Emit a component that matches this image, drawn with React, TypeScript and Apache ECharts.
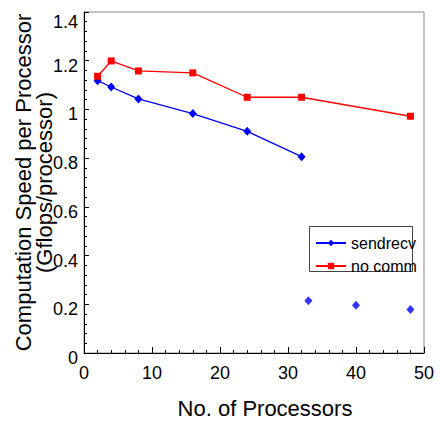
import React, { useEffect, useRef } from "react";
import * as echarts from "echarts";

const sendrecvX = [2, 4, 8, 16, 24, 32];
const sendrecvY = [1.118, 1.092, 1.043, 0.983, 0.91, 0.806];
const extraX = [33, 40, 48];
const extraY = [0.215, 0.196, 0.179];
const nocommX = [2, 4, 8, 16, 24, 32, 48];
const nocommY = [1.136, 1.199, 1.158, 1.15, 1.05, 1.05, 0.972];

const FONT = "'Liberation Sans', Arial, sans-serif";

export default function App() {
  const ref = useRef<HTMLDivElement>(null);
  useEffect(() => {
    if (!ref.current) return;
    const chart = echarts.init(ref.current, null, { renderer: "svg" });
    const pair = (xs: number[], ys: number[]) => xs.map((x, i) => [x, ys[i]]);
    chart.setOption({
      animation: false,
      backgroundColor: "#ffffff",
      textStyle: { fontFamily: FONT },
      grid: {
        left: 84,
        top: 12,
        right: 17,
        bottom: 68,
        containLabel: false,
        outerBoundsMode: "none",
        show: true,
        borderColor: "#888888",
        borderWidth: 1,
      },
      xAxis: {
        type: "value",
        min: 0,
        max: 50,
        interval: 10,
        name: "No. of Processors",
        nameLocation: "middle",
        nameGap: 44,
        nameMoveOverlap: false,
        nameTextStyle: { fontSize: 22, color: "#000", fontFamily: FONT, padding: [0, 0, 0, 22] },
        axisLine: { show: true, onZero: false, lineStyle: { color: "#000", width: 1 } },
        axisTick: { show: true, inside: true, length: 6, lineStyle: { color: "#000" } },
        minorTick: { show: true, splitNumber: 5, length: 3, lineStyle: { color: "#000" } },
        axisLabel: { fontSize: 18, color: "#000", margin: 11, fontFamily: FONT },
        splitLine: { show: false },
      },
      yAxis: {
        type: "value",
        min: 0,
        max: 1.4,
        interval: 0.2,
        name: "Computation Speed per Processor\n(Gflops/processor)",
        nameLocation: "middle",
        nameGap: 29,
        nameMoveOverlap: false,
        nameTextStyle: { fontSize: 22, lineHeight: 21, color: "#000", fontFamily: FONT, align: "center" },
        axisLine: { show: true, onZero: false, lineStyle: { color: "#000", width: 1 } },
        axisTick: { show: true, inside: true, length: 5, lineStyle: { color: "#000" } },
        minorTick: { show: true, splitNumber: 5, length: 3, lineStyle: { color: "#000" } },
        axisLabel: {
          fontSize: 18,
          color: "#000",
          margin: 6,
          fontFamily: FONT,
          formatter: (v: number) => (Math.abs(v - 1.4) < 1e-6 ? "{t|1.4}" : "{n|" + String(Math.round(v * 10) / 10) + "}"),
          rich: {
            t: { fontSize: 18, color: "#000", fontFamily: FONT, padding: [20, 0, 0, 0] },
            n: { fontSize: 18, color: "#000", fontFamily: FONT, padding: [10, 0, 0, 0] },
          },
        },
        splitLine: { show: false },
      },
      legend: {
        data: ["sendrecv", "no comm"],
        orient: "vertical",
        left: 315,
        top: 235,
        padding: 0,
        itemGap: 7,
        itemWidth: 30,
        itemHeight: 8,
        textStyle: { fontSize: 16, color: "#000", fontFamily: FONT },
      },
      graphic: [
        {
          type: "rect",
          shape: { x: 309.5, y: 226.5, width: 103, height: 45 },
          style: { fill: "none", stroke: "#444", lineWidth: 1 },
          z: 0,
        },
      ],
      series: [
        {
          name: "sendrecv",
          type: "line",
          data: pair(sendrecvX, sendrecvY),
          symbol: "diamond",
          symbolSize: [8, 9],
          itemStyle: { color: "#0000ff" },
          lineStyle: { color: "#0000ff", width: 1.3 },
        },
        {
          name: "no comm",
          type: "line",
          data: pair(nocommX, nocommY),
          symbol: "rect",
          symbolSize: 7,
          itemStyle: { color: "#ff0000" },
          lineStyle: { color: "#ff0000", width: 1.3 },
        },
        {
          name: "sendrecv extra",
          type: "scatter",
          data: pair(extraX, extraY),
          symbol: "diamond",
          symbolSize: [8, 9],
          itemStyle: { color: "#0000ff" },
        },
      ],
    });
    return () => chart.dispose();
  }, []);
  return <div ref={ref} style={{ position: "fixed", left: 0, top: 0, width: 441, height: 421 }} />;
}
